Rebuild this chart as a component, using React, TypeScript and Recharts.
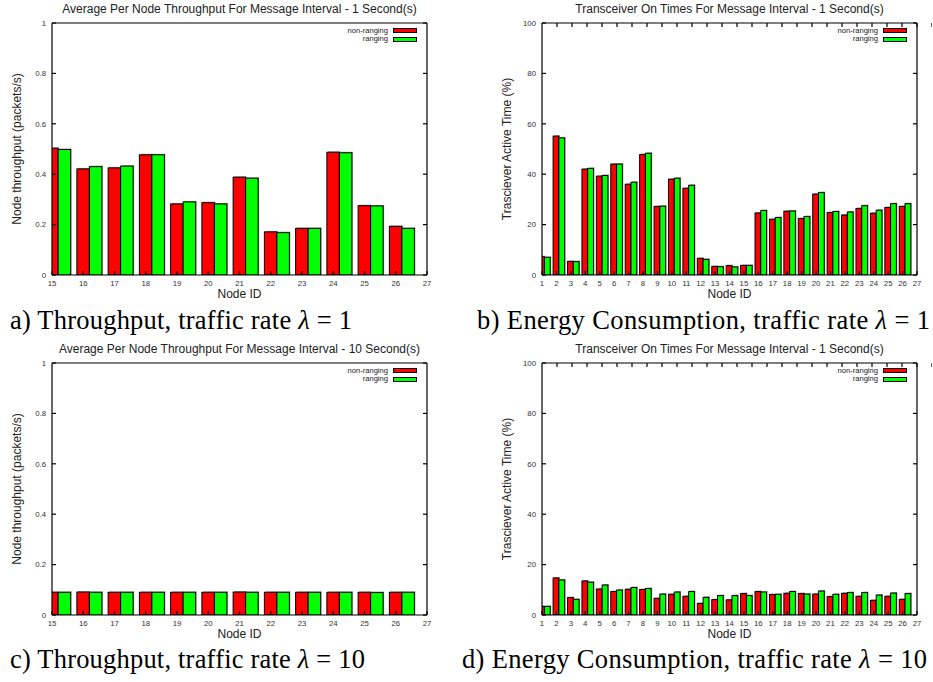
import { Bar, BarChart, Legend, XAxis, YAxis } from 'recharts'

// node ids on each x axis
const tputNodes = [15, 16, 17, 18, 19, 20, 21, 22, 23, 24, 25, 26]
const energyNodes = [1, 2, 3, 4, 5, 6, 7, 8, 9, 10, 11, 12, 13, 14, 15, 16, 17, 18, 19, 20, 21, 22, 23, 24, 25, 26]

// a) throughput, lambda = 1
const tputNonRanging1 = [0.503, 0.421, 0.425, 0.477, 0.282, 0.287, 0.388, 0.171, 0.185, 0.487, 0.275, 0.193]
const tputRanging1 = [0.498, 0.43, 0.432, 0.477, 0.29, 0.282, 0.384, 0.168, 0.185, 0.485, 0.274, 0.185]

// c) throughput, lambda = 10
const tputNonRanging10 = [0.09, 0.091, 0.09, 0.09, 0.09, 0.09, 0.091, 0.09, 0.09, 0.09, 0.09, 0.09]
const tputRanging10 = [0.09, 0.09, 0.09, 0.09, 0.09, 0.09, 0.09, 0.09, 0.09, 0.09, 0.089, 0.09]

// b) transceiver on time (%), lambda = 1
const onNonRanging1 = [7.3, 55.1, 5.4, 42.0, 39.2, 44.0, 36.0, 47.8, 27.2, 38.0, 34.4, 6.6, 3.4, 3.7, 3.8, 24.6, 22.1, 25.3, 22.4, 32.1, 24.8, 23.8, 26.4, 24.5, 26.8, 27.2]
const onRanging1 = [7.0, 54.4, 5.3, 42.3, 39.5, 44.0, 36.8, 48.3, 27.3, 38.4, 35.6, 6.2, 3.3, 3.2, 3.8, 25.6, 22.8, 25.4, 23.2, 32.7, 25.2, 25.0, 27.5, 25.7, 28.3, 28.3]

// d) transceiver on time (%), lambda = 10
const onNonRanging10 = [3.4, 14.7, 6.9, 13.5, 10.3, 9.3, 10.2, 10.1, 6.6, 8.2, 7.4, 4.6, 6.1, 6.0, 8.5, 9.3, 8.1, 8.6, 8.5, 8.3, 7.3, 8.6, 7.4, 5.8, 7.4, 6.2]
const onRanging10 = [3.4, 13.9, 6.2, 13.0, 11.9, 9.9, 10.9, 10.5, 8.3, 9.1, 9.3, 7.0, 7.7, 7.7, 7.7, 9.1, 8.2, 9.3, 8.3, 9.5, 8.2, 8.9, 8.9, 7.9, 8.7, 8.5]

const tputXTicks = [15, 16, 17, 18, 19, 20, 21, 22, 23, 24, 25, 26, 27]
const energyXTicks = [1, 2, 3, 4, 5, 6, 7, 8, 9, 10, 11, 12, 13, 14, 15, 16, 17, 18, 19, 20, 21, 22, 23, 24, 25, 26, 27]
const tputYTicks = [0, 0.2, 0.4, 0.6, 0.8, 1]
const energyYTicks = [0, 20, 40, 60, 80, 100]

const rowsOf = (nodes: number[], nonRanging: number[], ranging: number[]) =>
  nodes.map((node, i) => ({ node, nonRanging: nonRanging[i], ranging: ranging[i] }))

const SANS = '"Liberation Sans", Arial, Helvetica, sans-serif'
const SERIF = '"Liberation Serif", "Times New Roman", serif'

const PW = 466
const PH = 300
const PLOT_TOP = 23
const PLOT_BOTTOM = 275
const PLOT_W = 375

function ShadowBar(props: any) {
  const { x, y, width, height, fill } = props
  if (!height || height <= 0) return null
  return (
    <g>
      <rect x={x + 1} y={y - 1} width={width} height={height + 1} fill="#9a9a9a" />
      <rect x={x} y={y} width={width} height={height} fill={fill} stroke="#000" strokeWidth={1} />
    </g>
  )
}

function LegendBox({ payload }: any) {
  return (
    <div style={{ fontFamily: SANS, fontSize: 7.6, color: '#222' }}>
      {(payload || []).map((p: any) => (
        <div
          key={p.value}
          style={{ display: 'flex', justifyContent: 'flex-end', alignItems: 'center', height: 8.7 }}
        >
          <span style={{ lineHeight: '8.7px' }}>{p.value}</span>
          <span
            style={{
              display: 'inline-block',
              boxSizing: 'border-box',
              width: 24,
              height: 5,
              marginLeft: 5,
              background: p.color,
              border: '1px solid #000',
            }}
          />
        </div>
      ))}
    </div>
  )
}

type PanelProps = {
  left: number
  top: number
  plotLeft: number
  rows: { node: number; nonRanging: number; ranging: number }[]
  xTicks: number[]
  yTicks: number[]
}

function Panel({ left, top, plotLeft, rows, xTicks, yTicks }: PanelProps) {
  const plotRight = plotLeft + PLOT_W
  const x0 = xTicks[0]
  const x1 = xTicks[xTicks.length - 1]
  const unit = PLOT_W / (x1 - x0)
  const barSize = unit * 0.4
  const yDomain = [yTicks[0], yTicks[yTicks.length - 1]]
  const tick = { fontSize: 7.8, fill: '#333', fontFamily: SANS }
  const line = { stroke: '#000', strokeWidth: 1.2 }
  const blank = () => ''
  return (
    <div style={{ position: 'absolute', left, top, width: PW, height: PH }}>
      <BarChart
        width={PW}
        height={PH}
        data={rows}
        barGap={0}
        margin={{ top: PLOT_TOP - 1, right: PW - plotRight - 1, bottom: PH - PLOT_BOTTOM - 20, left: plotLeft - 40 }}
      >
        <XAxis
          type="number"
          dataKey={(d: any) => d.node + 0.2}
          domain={[x0, x1]}
          ticks={xTicks}
          interval={0}
          allowDataOverflow
          height={20}
          tickSize={-4}
          tickMargin={9}
          tick={tick}
          axisLine={line}
          tickLine={line}
        />
        <XAxis
          xAxisId="top"
          orientation="top"
          type="number"
          domain={[x0, x1]}
          ticks={xTicks}
          interval={0}
          allowDataOverflow
          height={1}
          tickSize={-4}
          tickFormatter={blank}
          axisLine={line}
          tickLine={line}
        />
        <YAxis
          type="number"
          domain={yDomain}
          ticks={yTicks}
          interval={0}
          allowDataOverflow
          width={40}
          tickSize={-4}
          tickMargin={10}
          tick={tick}
          axisLine={line}
          tickLine={line}
        />
        <YAxis
          yAxisId="right"
          orientation="right"
          type="number"
          domain={yDomain}
          ticks={yTicks}
          interval={0}
          allowDataOverflow
          width={1}
          tickSize={-4}
          tickFormatter={blank}
          axisLine={line}
          tickLine={line}
        />
        <Legend
          layout="horizontal"
          verticalAlign="middle"
          align="center"
          wrapperStyle={{ top: PLOT_TOP + 3.5, left: plotRight - 110, width: 100 }}
          content={<LegendBox />}
        />
        <Bar
          dataKey="nonRanging"
          name="non-ranging"
          fill="#ff0000"
          barSize={barSize}
          shape={<ShadowBar />}
          isAnimationActive={false}
        />
        <Bar
          dataKey="ranging"
          name="ranging"
          fill="#00ff00"
          barSize={barSize}
          shape={<ShadowBar />}
          isAnimationActive={false}
        />
      </BarChart>
    </div>
  )
}

const panels = [
  {
    key: 'a',
    left: 0,
    top: 0,
    plotLeft: 52,
    rows: rowsOf(tputNodes, tputNonRanging1, tputRanging1),
    xTicks: tputXTicks,
    yTicks: tputYTicks,
    title: 'Average Per Node Throughput For Message Interval - 1 Second(s)',
    yLabel: 'Node throughput (packets/s)',
  },
  {
    key: 'b',
    left: 466,
    top: 0,
    plotLeft: 76,
    rows: rowsOf(energyNodes, onNonRanging1, onRanging1),
    xTicks: energyXTicks,
    yTicks: energyYTicks,
    title: 'Transceiver On Times For Message Interval - 1 Second(s)',
    yLabel: 'Trasciever Active Time (%)',
  },
  {
    key: 'c',
    left: 0,
    top: 340,
    plotLeft: 52,
    rows: rowsOf(tputNodes, tputNonRanging10, tputRanging10),
    xTicks: tputXTicks,
    yTicks: tputYTicks,
    title: 'Average Per Node Throughput For Message Interval - 10 Second(s)',
    yLabel: 'Node throughput (packets/s)',
  },
  {
    key: 'd',
    left: 466,
    top: 340,
    plotLeft: 76,
    rows: rowsOf(energyNodes, onNonRanging10, onRanging10),
    xTicks: energyXTicks,
    yTicks: energyYTicks,
    title: 'Transceiver On Times For Message Interval - 1 Second(s)',
    yLabel: 'Trasciever Active Time (%)',
  },
]

const captions = [
  { key: 'a', x: 10, y: 329, len: 342, text: 'a) Throughput, traffic rate ', rate: '1' },
  { key: 'b', x: 477, y: 329, len: 453, text: 'b) Energy Consumption, traffic rate ', rate: '1' },
  { key: 'c', x: 10, y: 668, len: 355, text: 'c) Throughput, traffic rate ', rate: '10' },
  { key: 'd', x: 462, y: 668, len: 465, text: 'd) Energy Consumption, traffic rate ', rate: '10' },
]

export default function App() {
  return (
    <div style={{ position: 'absolute', left: 0, top: 0, width: 933, height: 682, background: '#fff' }}>
      {panels.map((p) => (
        <Panel
          key={p.key}
          left={p.left}
          top={p.top}
          plotLeft={p.plotLeft}
          rows={p.rows}
          xTicks={p.xTicks}
          yTicks={p.yTicks}
        />
      ))}
      <svg
        width={933}
        height={682}
        style={{ position: 'absolute', left: 0, top: 0, pointerEvents: 'none' }}
      >
        {panels.map((p) => {
          const cx = p.left + p.plotLeft + PLOT_W / 2
          const ly = p.top + (PLOT_TOP + PLOT_BOTTOM) / 2
          const lx = p.left + p.plotLeft - 35
          return (
            <g key={p.key} fontFamily={SANS} fill="#222">
              <text x={cx} y={p.top + 9} fontSize={12} textAnchor="middle" dominantBaseline="central">
                {p.title}
              </text>
              <text
                x={lx}
                y={ly}
                fontSize={12}
                textAnchor="middle"
                dominantBaseline="central"
                transform={`rotate(-90, ${lx}, ${ly})`}
              >
                {p.yLabel}
              </text>
              <text x={cx} y={p.top + PLOT_BOTTOM + 19} fontSize={12} textAnchor="middle" dominantBaseline="central">
                Node ID
              </text>
            </g>
          )
        })}
        {captions.map((c) => (
          <text
            key={c.key}
            x={c.x}
            y={c.y}
            textLength={c.len}
            lengthAdjust="spacing"
            fontFamily={SERIF}
            fontSize={26.5}
            fill="#000"
          >
            {c.text}
            <tspan fontStyle="italic">λ</tspan>
            {' = ' + c.rate}
          </text>
        ))}
      </svg>
    </div>
  )
}
